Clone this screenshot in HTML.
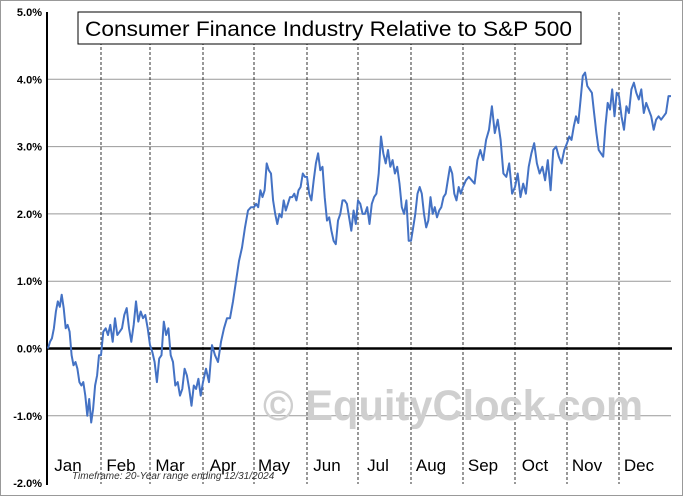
<!DOCTYPE html>
<html><head><meta charset="utf-8"><style>
body{margin:0;background:#fff}
svg{display:block;font-family:"Liberation Sans",sans-serif}
</style></head><body>
<svg width="683" height="496" id="c">
<rect x="0.5" y="0.5" width="682" height="495" fill="#fff" stroke="#999"/>
<g id="grid"></g>
<text x="453" y="420" font-size="43" font-weight="bold" fill="#cfcfcf" text-anchor="middle" textLength="380" lengthAdjust="spacingAndGlyphs">© EquityClock.com</text>
<g id="marks"></g>
<rect x="78" y="12" width="503" height="32" fill="#fff" stroke="#000"/>
<text x="85" y="36" font-size="21" textLength="487" lengthAdjust="spacingAndGlyphs">Consumer Finance Industry Relative to S&amp;P 500</text>
<text x="72" y="479" font-size="10" font-style="italic" fill="#333">Timeframe:  20-Year range ending 12/31/2024</text>
</svg>
<script>
const months=["Jan","Feb","Mar","Apr","May","Jun","Jul","Aug","Sep","Oct","Nov","Dec"];
const yTicks=[5,4,3,2,1,0,-1,-2];
const yTickLabels=["5.0%","4.0%","3.0%","2.0%","1.0%","0.0%","-1.0%","-2.0%"];
const jan=[0,0.1,0.15,0.3,0.55,0.7,0.62,0.8,0.6,0.3,0.35,0.25,-0.1,-0.25,-0.2,-0.3,-0.5,-0.55,-0.5,-0.7,-1.0,-0.75,-1.1,-0.9,-0.55,-0.4,-0.1];
const feb=[-0.1,0.25,0.3,0.2,0.35,0.1,0.45,0.2,0.25,0.3,0.5,0.6,0.3,0.1,0.35,0.7,0.4,0.55,0.45,0.5,0.3];
const mar=[0.05,-0.05,-0.2,-0.5,-0.15,-0.1,0.4,0.2,0.3,-0.1,-0.2,-0.55,-0.5,-0.7,-0.6,-0.3,-0.4,-0.6,-0.85,-0.55,-0.6,-0.45,-0.7];
const apr=[-0.5,-0.3,-0.5,0.05,-0.1,-0.2,0.1,0.3,0.45,0.45,0.7,1.0,1.3,1.5,1.8,2.05,2.1];
const may=[2.1,2.15,2.1,2.35,2.25,2.35,2.75,2.65,2.6,2.2,2.0,1.85,2.0,1.95,2.2,2.05,2.15,2.25,2.25,2.3,2.2,2.35,2.4,2.6,2.55];
const jun=[2.55,2.3,2.2,2.5,2.75,2.9,2.65,2.7,2.25,1.9,1.95,1.75,1.6,1.55,1.9,2.0,2.2,2.2,2.15,1.95,1.75,2.05,1.85];
const jul=[2.2,2.15,2.0,2.0,2.1,1.85,2.15,2.25,2.3,2.6,3.15,2.9,2.75,2.95,2.7,2.8,2.6,2.7,2.45,2.1,2.0,2.2,1.6];
const aug=[1.6,1.8,2.0,2.3,2.4,2.3,2.0,1.8,1.9,2.25,2.0,2.1,1.95,2.05,2.1,2.25,2.3,2.5,2.7,2.6,2.3,2.2,2.4,2.3];
const sep=[2.4,2.5,2.55,2.5,2.45,2.8,2.95,2.8,3.1,3.25,3.6,3.2,3.4,3.1,2.6,2.55,2.75,2.3];
const oct=[2.4,2.6,2.25,2.45,2.3,2.7,2.9,3.05,2.75,2.6,2.7,2.5,2.8,2.35,2.95,3.0,2.85,2.75,2.95];
const nov=[3.05,3.15,3.1,3.3,3.45,3.35,3.7,4.05,4.1,3.9,3.85,3.8,3.5,3.2,2.95,2.9,2.85,3.3,3.65,3.55,3.85,3.45,3.8];
const dec=[3.75,3.45,3.25,3.6,3.5,3.85,3.95,3.8,3.7,3.85,3.5,3.65,3.55,3.45,3.25,3.4,3.45,3.4,3.45,3.5,3.75];
const series=[jan,feb,mar,apr,may,jun,jul,aug,sep,oct,nov,dec];
const NS="http://www.w3.org/2000/svg";
const edges=[48,101,150,203,254,307,358,411,463,515,567,619,671];
function xScale(m){const i=Math.min(11,Math.floor(m));return edges[i]+(m-i)*(edges[i+1]-edges[i]);}
function yScale(v){return 348.5-v*67.3;}
function mk(t,a,p){const e=document.createElementNS(NS,t);for(const k in a)e.setAttribute(k,a[k]);p.appendChild(e);return e;}
const grid=document.getElementById('grid'),marks=document.getElementById('marks');
yTicks.forEach((v,i)=>{
  if(v!==0&&v!==5&&v!==-2){const l=mk('line',{x1:48,x2:671,y1:yScale(v),y2:yScale(v),stroke:'#999','stroke-width':1},grid);
  
  }
  const t=mk('text',{x:42,y:yScale(v)+4,'font-size':11,'font-weight':'bold','text-anchor':'end'},grid);
  t.textContent=yTickLabels[i];
  
  
});
months.forEach((m,i)=>{
  if(i>0){const l=mk('line',{x1:xScale(i),x2:xScale(i),y1:12,y2:484,stroke:'#000','stroke-width':0.8,'stroke-dasharray':'3,2'},grid);
  
  }
  const t=mk('text',{x:xScale(i)+20,y:471,'font-size':17,'text-anchor':'middle'},grid);
  t.textContent=m;
  
  
});
const ax=mk('line',{x1:47,x2:47,y1:12,y2:485,stroke:'#000','stroke-width':2},marks);


const zl=mk('line',{x1:47,x2:672,y1:yScale(0),y2:yScale(0),stroke:'#000','stroke-width':2.5},marks);


let pts=[];
series.forEach((arr,m)=>{arr.forEach((v,i)=>{pts.push(xScale(m+i/arr.length).toFixed(1)+','+yScale(v).toFixed(1));});});
const last=dec[dec.length-1];
pts.push(xScale(12).toFixed(1)+','+yScale(last).toFixed(1));
const pl=mk('polyline',{points:pts.join(' '),fill:'none',stroke:'#4472c4','stroke-width':2,'stroke-linejoin':'round'},marks);


</script>
</body></html>
